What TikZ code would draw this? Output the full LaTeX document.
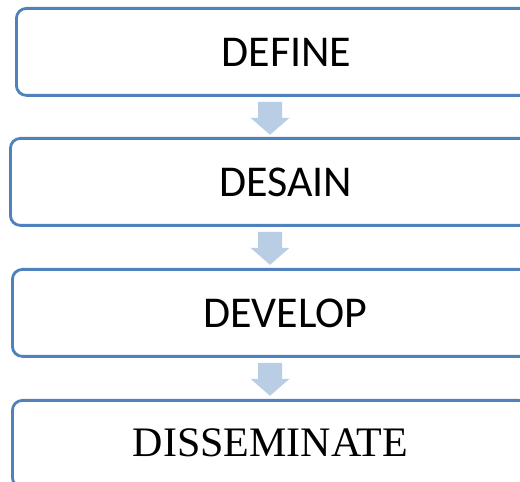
\documentclass[tikz,border=0pt]{standalone}
\usepackage{fontspec}
\setmainfont{Carlito}
\newfontfamily\timesfont{Liberation Serif}
\usetikzlibrary{calc}
\definecolor{boxblue}{RGB}{79,129,189}
\definecolor{arrowblue}{RGB}{185,205,229}
\begin{document}
\begin{tikzpicture}[x=1pt,y=1pt,
  stagebox/.style={draw=boxblue, line width=2.8pt, rounded corners=10pt, minimum height=87pt,
    inner sep=0pt, anchor=north west, font=\fontsize{44}{48}\selectfont},
  downarrow/.pic={\fill[arrowblue] (-12,0) -- (12,0) -- (12,-16) -- (19.5,-16) -- (0,-33) -- (-19.5,-16) -- (-12,-16) -- cycle;}]
\useasboundingbox (0,0) rectangle (520,482);
\clip (0,0) rectangle (520,482);
\fill[white] (0,0) rectangle (520,482);
\node[stagebox, minimum width=540pt] (b1) at (15,475) {DEFINE};
\node[stagebox, minimum width=551pt] (b2) at (9,345) {DESAIN};
\node[stagebox, minimum width=546pt] (b3) at (11,214) {DEVELOP};
\node[stagebox, minimum width=516pt, font=\timesfont\fontsize{42}{46}\selectfont] (b4) at (11,83) {\raisebox{3pt}{DISSEMINATE}};
\coordinate (ax) at (270,0);
\path (b1.south) ++(0,-5) coordinate (t1);
\path (b2.south) ++(0,-5) coordinate (t2);
\path (b3.south) ++(0,-5) coordinate (t3);
\pic at (t1 -| ax) {downarrow};
\pic at (t2 -| ax) {downarrow};
\pic at (t3 -| ax) {downarrow};
\end{tikzpicture}
\end{document}
